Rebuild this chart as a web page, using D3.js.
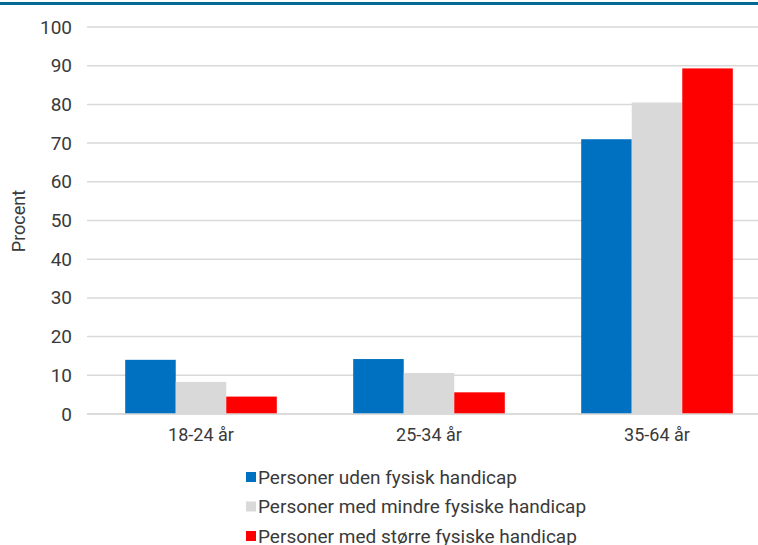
<!DOCTYPE html>
<html>
<head>
<meta charset="utf-8">
<script src="https://cdn.jsdelivr.net/npm/d3@7"></script>
<style>
  body { margin: 0; background: #fff; }
  text { font-family: Roboto, "Noto Sans", sans-serif; fill: #3a3a3a; }
</style>
</head>
<body>
<div id="chart"></div>
<script>
const categories = ["18-24 år", "25-34 år", "35-64 år"];
const seriesNames = [
  "Personer uden fysisk handicap",
  "Personer med mindre fysiske handicap",
  "Personer med større fysiske handicap"
];
const uden = [14.0, 14.2, 71.0];
const mindre = [8.3, 10.6, 80.5];
const stoerre = [4.5, 5.6, 89.3];
const yTicks = [0, 10, 20, 30, 40, 50, 60, 70, 80, 90, 100];

const values = [uden, mindre, stoerre];
const colors = ["#0070c0", "#d9d9d9", "#ff0000"];

const W = 758, H = 545;
const margin = { top: 27, right: -13, bottom: 131, left: 87 };
const width = W - margin.left - margin.right;
const height = H - margin.top - margin.bottom;

const svg = d3.select("#chart").append("svg")
  .attr("width", W)
  .attr("height", H);

// top rule
svg.append("rect")
  .attr("x", 0).attr("y", 2)
  .attr("width", W).attr("height", 3)
  .attr("fill", "#006994");

const g = svg.append("g")
  .attr("transform", `translate(${margin.left},${margin.top})`);

const x0 = d3.scaleBand()
  .domain(categories)
  .range([0, width])
  .paddingInner(0.335)
  .paddingOuter(0.1675);

const x1 = d3.scaleBand()
  .domain(d3.range(seriesNames.length))
  .range([0, x0.bandwidth()]);

const y = d3.scaleLinear()
  .domain([0, 100])
  .range([height, 0]);

// gridlines
g.selectAll(".grid")
  .data(yTicks)
  .enter()
  .append("line")
  .attr("class", "grid")
  .attr("x1", 0)
  .attr("x2", width)
  .attr("y1", (d) => y(d))
  .attr("y2", (d) => y(d))
  .attr("stroke", "#d9d9d9")
  .attr("stroke-width", 1.5);

// y axis labels
const yAxis = d3.axisLeft(y).tickValues(yTicks).tickSize(0).tickPadding(15);
g.append("g")
  .call(yAxis)
  .call((ax) => ax.select(".domain").remove())
  .selectAll("text")
  .style("font-size", "19px")
  .attr("fill", "#3a3a3a");

// bars
const groups = g.selectAll(".grp")
  .data(categories)
  .enter()
  .append("g")
  .attr("transform", (d) => `translate(${x0(d)},0)`);

groups.selectAll("rect")
  .data((d, i) => values.map((s, j) => ({ j, v: s[i] })))
  .enter()
  .append("rect")
  .attr("x", (d) => x1(d.j))
  .attr("width", x1.bandwidth())
  .attr("y", (d) => y(d.v))
  .attr("height", (d) => y(0) - y(d.v))
  .attr("fill", (d) => colors[d.j]);

// baseline
g.append("line")
  .attr("x1", 0).attr("x2", width)
  .attr("y1", y(0)).attr("y2", y(0))
  .attr("stroke", "#d9d9d9")
  .attr("stroke-width", 1.5);

// x axis labels
const xAxis = d3.axisBottom(x0).tickSize(0).tickPadding(14);
g.append("g")
  .attr("transform", `translate(0,${height})`)
  .call(xAxis)
  .call((ax) => ax.select(".domain").remove())
  .selectAll("text")
  .style("font-size", "18px")
  .attr("fill", "#3a3a3a");

// y axis title
svg.append("text")
  .attr("transform", "translate(25,221) rotate(-90)")
  .attr("text-anchor", "middle")
  .style("font-size", "18px")
  .text("Procent");

// legend
const legend = svg.selectAll(".legend")
  .data(seriesNames)
  .enter()
  .append("g")
  .attr("transform", (d, i) => `translate(246,${477 + i * 29.5})`);

legend.append("rect")
  .attr("x", 0).attr("y", -5)
  .attr("width", 10).attr("height", 10)
  .attr("fill", (d, i) => colors[i]);

legend.append("text")
  .attr("x", 12)
  .attr("dy", "0.36em")
  .style("font-size", "19px")
  .text((d) => d);
</script>
</body>
</html>
